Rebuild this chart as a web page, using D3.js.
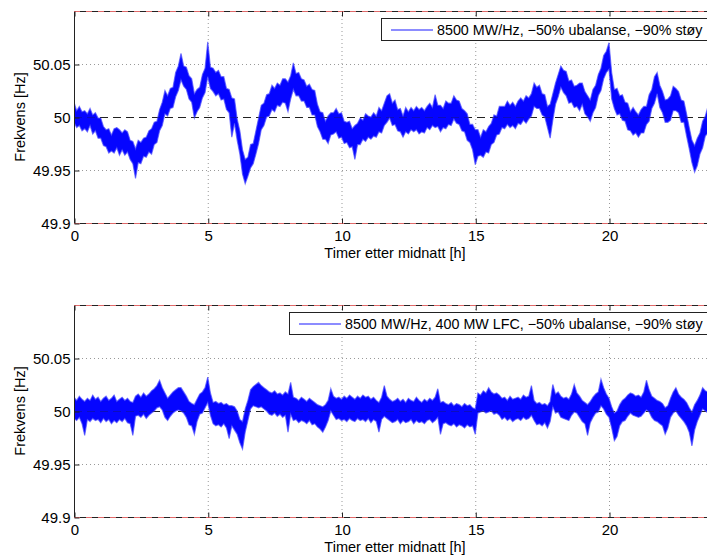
<!DOCTYPE html>
<html>
<head>
<meta charset="utf-8">
<script src="https://cdn.jsdelivr.net/npm/d3@7"></script>
<style>
  html, body { margin: 0; padding: 0; background: #fff; overflow: hidden; }
  svg { display: block; font-family: "Liberation Sans", Arial, Helvetica, sans-serif; }
</style>
</head>
<body>
<svg id="chart" width="707" height="556"></svg>
<script>
// Frequency deviation from 50 Hz in mHz: highest and lowest value reached in
// each 6-minute interval (0.1 h) from 0 to 24 h.
const sampleStep = 0.1;
const nominalHz = 50;

const hiNoLfc = [
  14,6,10,5,6,3,8,2,4,-1,
  -1,-9,-12,-11,-17,-11,-10,-12,-15,-12,
  -14,-22,-23,-30,-22,-24,-20,-19,-13,-11,
  -5,-4,7,14,25,20,27,28,42,48,
  60,48,47,39,36,22,26,28,40,46,
  71,47,46,42,44,38,38,27,26,18,
  17,-2,-13,-31,-40,-38,-26,-25,-13,-1,
  11,13,21,22,30,27,32,30,36,36,
  33,39,51,41,42,36,35,29,31,26,
  25,12,5,4,-4,1,4,4,8,3,
  4,-4,-5,-4,-11,-8,-6,-1,-3,3,
  1,0,4,1,9,6,13,20,22,13,
  16,7,8,1,9,5,9,6,10,7,
  9,6,10,13,9,21,11,11,8,15,
  13,13,20,16,15,8,6,3,-7,-7,
  -12,-12,-19,-12,-14,-9,-6,2,1,10,
  10,10,15,11,14,10,15,18,15,20,
  18,22,32,28,30,22,21,10,12,22,
  32,40,48,44,43,34,35,29,30,32,
  32,24,20,16,26,30,40,46,58,62,
  70,42,26,27,20,21,14,13,5,9,
  5,2,7,10,10,21,26,38,42,30,
  24,16,17,20,29,27,24,16,15,3,
  -10,-22,-27,-20,-15,-4,1,10,11,14,
  15
];

const loNoLfc = [
  -5,-10,-8,-13,-11,-14,-8,-16,-13,-20,
  -20,-27,-28,-34,-32,-34,-29,-36,-31,-36,
  -33,-40,-44,-58,-43,-44,-37,-38,-33,-35,
  -26,-24,-13,-8,3,1,8,9,19,25,
  35,29,26,17,14,-1,5,9,18,23,
  38,27,24,20,22,16,17,7,4,-19,
  -6,-22,-35,-54,-63,-56,-48,-44,-35,-25,
  -12,-8,0,1,7,5,11,10,14,13,
  5,17,26,20,20,15,15,9,9,2,
  2,-9,-14,-21,-21,-25,-17,-16,-14,-20,
  -19,-25,-24,-29,-28,-40,-26,-26,-21,-23,
  -19,-21,-18,-19,-14,-15,-8,-5,-1,-8,
  -7,-13,-14,-19,-14,-16,-12,-14,-12,-16,
  -14,-15,-10,-12,-8,-10,-9,-14,-10,-11,
  -7,-8,-2,-6,-7,-13,-14,-22,-24,-31,
  -45,-37,-36,-38,-33,-34,-26,-24,-17,-16,
  -10,-11,-7,-10,-8,-11,-6,-7,-3,-6,
  -2,1,10,8,8,2,0,-10,-20,-3,
  12,19,28,23,20,13,14,9,10,6,
  12,3,0,-4,4,9,20,25,36,42,
  45,17,8,2,3,-3,-4,-12,-13,-17,
  -15,-19,-15,-15,-7,-4,8,13,22,9,
  4,-5,-5,-3,6,6,4,-5,-5,-18,
  -30,-43,-52,-46,-35,-29,-18,-15,-8,-9,
  -5
];

const hiLfc = [
  13,10,14,11,9,12,10,15,11,13,
  9,12,14,10,12,15,9,11,13,10,
  12,9,8,14,16,13,17,14,16,19,
  21,24,29,22,17,12,15,18,20,22,
  22,18,14,9,7,6,11,16,18,22,
  32,17,8,9,7,8,6,7,5,5,
  4,0,-8,-10,2,10,20,23,25,27,
  24,22,20,18,17,19,16,17,15,18,
  16,27,13,12,10,13,11,9,12,10,
  8,6,5,4,6,10,21,14,12,13,
  11,14,12,15,13,11,14,12,15,13,
  14,11,13,10,8,13,24,14,11,9,
  10,12,9,11,8,12,10,9,13,10,
  8,11,9,12,10,13,21,8,9,7,
  6,8,5,7,6,4,7,5,6,3,
  2,17,15,19,17,22,18,16,17,15,
  12,13,10,14,11,12,13,11,15,13,
  14,24,10,7,8,6,7,5,9,25,
  16,18,14,12,13,11,16,25,17,14,
  10,8,6,9,13,16,18,30,22,16,
  12,4,-2,0,6,10,12,15,17,16,
  14,15,13,18,29,20,14,12,10,9,
  7,3,5,12,18,22,16,13,11,8,
  3,-1,6,10,15,22,19,18,15,14,
  13
];

const loLfc = [
  -7,-9,-6,-12,-23,-8,-10,-7,-9,-8,
  -11,-7,-10,-8,-12,-9,-11,-8,-10,-7,
  -11,-12,-23,-5,-4,-6,-3,-7,-4,-2,
  0,3,4,1,-6,-9,-5,-2,0,1,
  0,-2,-6,-13,-14,-22,-10,-3,-2,3,
  8,-4,-12,-14,-13,-15,-12,-16,-26,-14,
  -18,-22,-30,-36,-20,-9,2,5,4,3,
  4,2,0,-3,-4,-2,-5,-3,-6,-4,
  -20,-3,-9,-8,-11,-9,-10,-12,-9,-13,
  -12,-15,-17,-20,-15,-9,0,-4,-8,-7,
  -9,-8,-10,-7,-9,-10,-7,-9,-8,-10,
  -7,-11,-8,-10,-20,-8,-5,-7,-9,-11,
  -10,-8,-12,-9,-11,-10,-8,-12,-9,-11,
  -10,-12,-9,-8,-11,-9,-6,-22,-12,-11,
  -13,-14,-12,-15,-13,-14,-16,-13,-15,-14,
  -22,-2,-1,0,-2,-1,0,-3,-2,-4,
  -8,-6,-9,-7,-10,-8,-7,-9,-6,-8,
  -7,-4,-9,-13,-12,-14,-11,-16,-10,4,
  -2,-1,-6,-7,-8,-9,-4,-1,-2,-6,
  -10,-12,-23,-11,-6,-2,-1,5,2,-3,
  -6,-16,-28,-24,-14,-10,-9,-5,-2,-4,
  -5,-6,-5,-2,1,-1,-6,-9,-10,-12,
  -14,-22,-16,-6,-2,0,-4,-7,-10,-14,
  -20,-33,-18,-10,-4,2,0,-2,-4,-6,
  -7
];

const xTicks = [0, 5, 10, 15, 20];
const xTickLabels = ["0", "5", "10", "15", "20"];
const yTicks = [49.9, 49.95, 50, 50.05];
const yTickLabels = ["49.9", "49.95", "50", "50.05"];
const gridY = [49.95, 50.05];
const limitLines = [49.9, 50.1];

const xTitle = "Timer etter midnatt [h]";
const yTitle = "Frekvens [Hz]";
const legendNoLfc = "8500 MW/Hz, \u221250% ubalanse, \u221290% st\u00f8y";
const legendLfc = "8500 MW/Hz, 400 MW LFC, \u221250% ubalanse, \u221290% st\u00f8y";

const svg = d3.select("#chart");

function toEnvelope(hi, lo) {
  return hi.map((h, i) => ({
    t: i * sampleStep,
    hi: nominalHz + h / 1000,
    lo: nominalHz + lo[i] / 1000
  }));
}

function panel(opts) {
  const { top, bottom, left, right, envelope, legendText, legendLeft, id } = opts;
  const x = d3.scaleLinear().domain([0, 24]).range([left, right]);
  const y = d3.scaleLinear().domain([49.9, 50.1]).range([bottom, top]);
  const g = svg.append("g");

  g.append("rect").attr("x", left).attr("y", top)
    .attr("width", right - left).attr("height", bottom - top).attr("fill", "#fff");

  // dotted grid
  g.append("g").selectAll("line").data(xTicks.slice(1)).join("line")
    .attr("x1", d => x(d) + 0.5).attr("x2", d => x(d) + 0.5)
    .attr("y1", top).attr("y2", bottom)
    .attr("stroke", "#999").attr("stroke-width", 1).attr("stroke-dasharray", "1,3");
  g.append("g").selectAll("line").data(gridY).join("line")
    .attr("x1", left).attr("x2", right)
    .attr("y1", d => Math.round(y(d)) + 0.5).attr("y2", d => Math.round(y(d)) + 0.5)
    .attr("stroke", "#999").attr("stroke-width", 1).attr("stroke-dasharray", "1,3");

  svg.append("clipPath").attr("id", id).append("rect")
    .attr("x", left).attr("y", top).attr("width", right - left).attr("height", bottom - top);

  // nominal 50 Hz reference
  g.append("line")
    .attr("x1", left).attr("x2", right)
    .attr("y1", Math.round(y(nominalHz)) + 0.5).attr("y2", Math.round(y(nominalHz)) + 0.5)
    .attr("stroke", "#222").attr("stroke-width", 1).attr("stroke-dasharray", "8,5");

  // frequency trace: the dense signal drawn as its min/max band
  const band = d3.area().x(d => x(d.t)).y0(d => y(d.lo)).y1(d => y(d.hi));
  g.append("path").datum(envelope)
    .attr("clip-path", `url(#${id})`)
    .attr("d", band)
    .attr("fill", "#0505ff")
    .attr("stroke", "#4b4bff")
    .attr("stroke-opacity", 0.7)
    .attr("stroke-width", 1.2)
    .attr("stroke-linejoin", "miter");

  // nominal line shows faintly through the trace
  g.append("line")
    .attr("x1", left).attr("x2", right)
    .attr("y1", Math.round(y(nominalHz)) + 0.5).attr("y2", Math.round(y(nominalHz)) + 0.5)
    .attr("stroke", "#222").attr("stroke-opacity", 0.3).attr("stroke-width", 1).attr("stroke-dasharray", "8,5");

  // frame
  g.append("rect").attr("x", left + 0.5).attr("y", top + 0.5)
    .attr("width", right - left).attr("height", bottom - top)
    .attr("fill", "none").attr("stroke", "#222").attr("stroke-width", 1);

  // limit lines (red dashed) on the frame edges
  g.append("g").selectAll("line").data(limitLines).join("line")
    .attr("x1", left).attr("x2", right)
    .attr("y1", d => Math.round(y(d)) + 0.5).attr("y2", d => Math.round(y(d)) + 0.5)
    .attr("stroke", "#e06a6a").attr("stroke-width", 1).attr("stroke-dasharray", "6,6");

  // axes with inward ticks
  const xAxis = d3.axisBottom(x).tickValues(xTicks)
    .tickFormat((d, i) => xTickLabels[i]).tickSize(-5).tickPadding(7);
  const gx = g.append("g").attr("transform", `translate(0.5,${bottom + 0.5})`).call(xAxis);
  gx.select(".domain").remove();
  gx.selectAll(".tick line").attr("stroke", "#222");
  gx.selectAll("text").attr("font-size", 15).attr("fill", "#000")
    .attr("font-family", "Liberation Sans, Arial, sans-serif");

  const xAxisTop = d3.axisTop(x).tickValues(xTicks).tickFormat("").tickSize(-5);
  const gxt = g.append("g").attr("transform", `translate(0.5,${top + 0.5})`).call(xAxisTop);
  gxt.select(".domain").remove();
  gxt.selectAll(".tick line").attr("stroke", "#222");

  const yAxis = d3.axisLeft(y).tickValues(yTicks)
    .tickFormat((d, i) => yTickLabels[i]).tickSize(-5).tickPadding(4);
  const gy = g.append("g").attr("transform", `translate(${left + 0.5},0.5)`).call(yAxis);
  gy.select(".domain").remove();
  gy.selectAll(".tick line").attr("stroke", "#222");
  gy.selectAll("text").attr("font-size", 15).attr("fill", "#000")
    .attr("font-family", "Liberation Sans, Arial, sans-serif");

  // axis titles
  g.append("text")
    .attr("x", (left + right) / 2).attr("y", bottom + 35)
    .attr("text-anchor", "middle").attr("font-size", 14.5).attr("fill", "#000")
    .text(xTitle);
  g.append("text")
    .attr("transform", `translate(25,${(top + bottom) / 2}) rotate(-90)`)
    .attr("text-anchor", "middle").attr("font-size", 14.5).attr("fill", "#000")
    .text(yTitle);

  // legend
  const lg = g.append("g");
  lg.append("rect")
    .attr("x", legendLeft + 0.5).attr("y", top + 7.5)
    .attr("width", right - 7 - legendLeft).attr("height", 22)
    .attr("fill", "#fff").attr("stroke", "#222").attr("stroke-width", 1);
  lg.append("line")
    .attr("x1", legendLeft + 10).attr("x2", legendLeft + 52)
    .attr("y1", top + 19).attr("y2", top + 19)
    .attr("stroke", "#1a1aff").attr("stroke-width", 1.2);
  lg.append("text")
    .attr("x", legendLeft + 56).attr("y", top + 24)
    .attr("font-size", 14.3).attr("fill", "#000")
    .text(legendText);
}

panel({ id: "clipA", top: 11, bottom: 223, left: 74, right: 716,
  envelope: toEnvelope(hiNoLfc, loNoLfc), legendText: legendNoLfc, legendLeft: 381 });
panel({ id: "clipB", top: 305, bottom: 517, left: 74, right: 716,
  envelope: toEnvelope(hiLfc, loLfc), legendText: legendLfc, legendLeft: 289 });
</script>
</body>
</html>
